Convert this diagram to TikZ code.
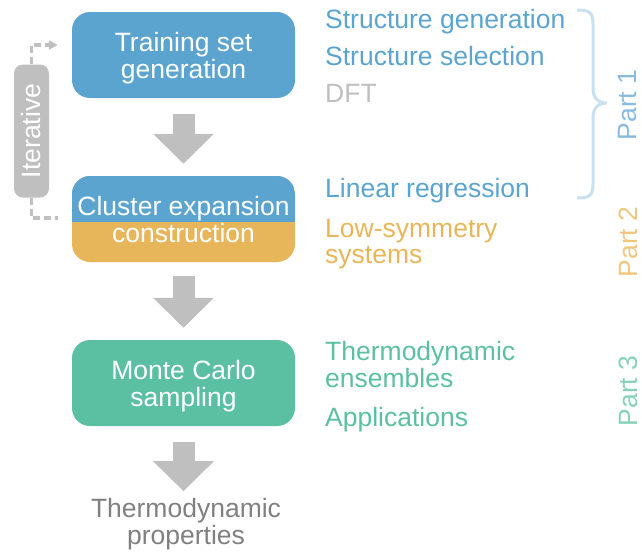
\documentclass[tikz,border=0pt]{standalone}
\usepackage{fontspec}
\setmainfont{Liberation Sans}
\usetikzlibrary{arrows.meta,positioning}
\definecolor{cblue}{RGB}{91,164,207}
\definecolor{corange}{RGB}{232,182,90}
\definecolor{cgreen}{RGB}{91,192,162}
\definecolor{cgray}{RGB}{191,191,191}
\definecolor{cdgray}{RGB}{128,128,128}
\definecolor{pblue}{RGB}{135,188,222}
\definecolor{porange}{RGB}{240,198,125}
\definecolor{pgreen}{RGB}{135,210,182}
\definecolor{bracecol}{RGB}{200,224,240}
\tikzset{
  mainfont/.style={font=\fontsize{26.5}{27}\selectfont},
  stagebox/.style={mainfont, rounded corners=18pt, minimum width=223pt, minimum height=86pt,
    text=white, align=center, inner sep=0pt, text depth=0pt},
  blockarrow/.style={draw=cgray, line width=22pt, -{Triangle[length=30pt,width=59pt]}},
  side/.style={mainfont, anchor=base west, inner sep=0pt},
  partlabel/.style={mainfont, rotate=90, inner sep=0pt},
  iterline/.style={draw=cgray, line width=3.5pt, dash pattern=on 7pt off 4pt},
}
\begin{document}
\begin{tikzpicture}[x=1pt,y=-1pt]
\useasboundingbox (0,0) rectangle (642,552);
% stage boxes
\node[stagebox, fill=cblue] (train) at (183.5,55) {Training set\\generation};
\node[stagebox, fill=corange, path picture={
   \fill[cblue, sharp corners] (path picture bounding box.north west) rectangle ([yshift=-3pt]path picture bounding box.east);
  }] (ce) at (183.5,219) {Cluster expansion\\construction};
\node[stagebox, fill=cgreen] (mc) at (183.5,383) {Monte Carlo\\sampling};
\node[mainfont, text=cdgray, align=center, inner sep=0pt, text depth=0pt] (props) at (186,521) {Thermodynamic\\properties};
% block arrows
\draw[blockarrow] ([yshift=-16pt]train.south) -- ([yshift=12pt]ce.north);
\draw[blockarrow] ([yshift=-14pt]ce.south) -- ([yshift=12pt]mc.north);
\draw[blockarrow] ([yshift=-16pt]mc.south) -- ([yshift=-65pt]mc.south);
% iterative
\node[mainfont, rotate=90, fill=cgray, text=white, rounded corners=9pt,
      minimum width=133pt, minimum height=35pt, inner sep=0pt] (iter) at (31.5,131) {Iterative};
\coordinate (itop) at ([xshift=-14pt,yshift=10pt]train.west);
\coordinate (ibot) at ([xshift=-14pt,yshift=1pt]ce.west);
\draw[iterline, -{Triangle[length=9pt,width=9pt]}] (iter.east) |- (itop);
\draw[iterline] (iter.west) |- (ibot);
% side texts
\node[side, text=cblue] (sg) at (325,28) {Structure generation};
\node[side, text=cblue] (ss) at (325,65) {Structure selection};
\node[side, text=cgray] (dft) at (325,102) {DFT};
\node[side, text=cblue] (lr) at (325,197) {Linear regression};
\node[side, text=corange] (ls) at (325,237) {Low-symmetry};
\node[side, text=corange] (sy) at (325,263) {systems};
\node[side, text=cgreen] (te) at (325,360) {Thermodynamic};
\node[side, text=cgreen] (en) at (325,387) {ensembles};
\node[side, text=cgreen] (ap) at (325,426) {Applications};
% brace
\draw[bracecol, line width=3pt]
  (577,10) .. controls (589,10) and (593,12) .. (593,24) -- (593,88)
  .. controls (593,98) and (598,103) .. (607,103)
  .. controls (598,103) and (593,108) .. (593,118) -- (593,184)
  .. controls (593,196) and (589,198) .. (577,198);
% part labels
\node[partlabel, text=pblue] (p1) at (628,105) {Part 1};
\node[partlabel, text=porange] (p2) at (628,242) {Part 2};
\node[partlabel, text=pgreen] (p3) at (628,391) {Part 3};
\end{tikzpicture}
\end{document}
